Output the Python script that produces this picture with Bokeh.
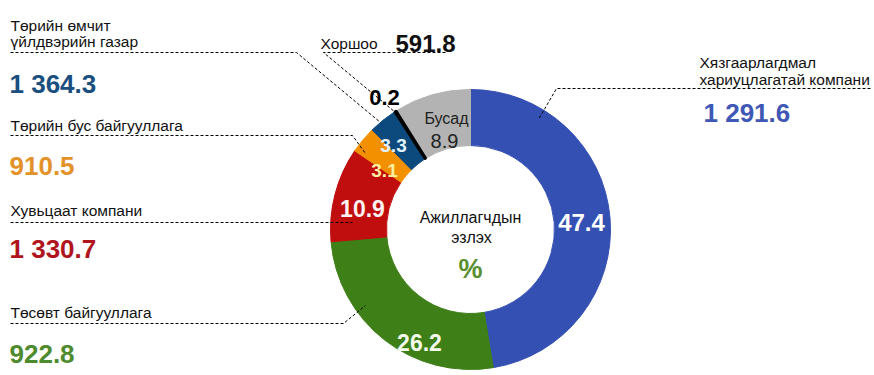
import numpy as np
from bokeh.plotting import figure
from bokeh.models import Range1d, Label
from bokeh.embed import file_html
from bokeh.resources import INLINE

# ---------------- data ----------------
categories = ["Хязгаарлагдмал хариуцлагатай компани", "Төсөвт байгууллага",
              "Хувьцаат компани", "Төрийн бус байгууллага",
              "Төрийн өмчит үйлдвэрийн газар", "Хоршоо", "Бусад"]
shares = [47.4, 26.2, 10.9, 3.1, 3.3, 0.2, 8.9]
amounts = ["1 291.6", "922.8", "1 330.7", "910.5", "1 364.3", "591.8", ""]
share_labels = ["47.4", "26.2", "10.9", "3.1", "3.3", "0.2", "8.9"]
center_lines = ["Ажиллагчдын", "эзлэх", "%"]

# ---------------- styles / layout ----------------
slice_colors = ["#3550B3", "#3F7F18", "#C00D0D", "#F39000", "#0C4A7E", "#000000", "#B3B3B3"]
amount_colors = ["#3F57B5", "#4E8A2E", "#B0141C", "#E3922A", "#1A4E7E", "#111111", "#222222"]
share_colors = ["#FFFFFF", "#F4FBEA", "#FFF2F2", "#FFF0A0", "#E0F4FF", "#000000", "#222222"]

W, H = 874, 375
FONT = "Liberation Sans"
CX, CY, R_OUT, R_IN = 470, 229, 140, 84


def Y(y):
    return H - y


p = figure(width=W, height=H, x_range=Range1d(0, W), y_range=Range1d(0, H),
           output_backend="svg", toolbar_location=None, min_border=0,
           x_axis_location=None, y_axis_location=None)
p.grid.visible = False
p.outline_line_color = None
p.background_fill_color = "white"
p.border_fill_color = "white"

# donut slices: clockwise from top
frac = np.array(shares) / np.sum(shares)
cum_end = np.cumsum(frac)
cum_start = cum_end - frac
start_angles = np.pi / 2 - 2 * np.pi * cum_end
end_angles = np.pi / 2 - 2 * np.pi * cum_start

p.annular_wedge(x=[CX] * len(shares), y=[Y(CY)] * len(shares),
                inner_radius=R_IN, outer_radius=R_OUT,
                start_angle=list(start_angles), end_angle=list(end_angles),
                fill_color=slice_colors, line_color=slice_colors, line_width=1)
# emphasise the tiny black slice
k = 5
p.annular_wedge(x=[CX], y=[Y(CY)], inner_radius=R_IN, outer_radius=R_OUT,
                start_angle=[start_angles[k]], end_angle=[end_angles[k]],
                fill_color="black", line_color="black", line_width=2.5)

# leader lines (layout, image coords)
leaders = [
    [(870, 88), (556, 88), (538, 119)],
    [(10, 323), (343, 323), (365, 305)],
    [(10, 222), (352, 222)],
    [(10, 135), (352, 135), (365, 153)],
    [(10, 52), (296, 52), (380, 122)],
    [(445, 52), (323, 52), (395, 112)],
]
for pts in leaders:
    p.line([a for a, b in pts], [Y(b) for a, b in pts], line_color="black",
           line_width=1, line_dash="3 2")


def lab(x, y, text, size, color="#111111", bold=False, align="left"):
    p.add_layout(Label(x=x, y=Y(y), text=text, text_font=FONT,
                       text_font_size=f"{size}px", text_color=color,
                       text_font_style="bold" if bold else "normal",
                       text_align=align, text_baseline="alphabetic"))


# category name / amount positions (layout)
name_pos = [[(699, 62), (699, 79)], [(10, 312)], [(10, 210)], [(10, 125)],
            [(10, 25), (10, 41)], [(320, 43)], []]
name_split = [["Хязгаарлагдмал", "хариуцлагатай компани"], ["Төсөвт байгууллага"],
              ["Хувьцаат компани"], ["Төрийн бус байгууллага"],
              ["Төрийн өмчит", "үйлдвэрийн газар"], ["Хоршоо"], []]
amount_pos = [(703, 112), (9, 353), (9, 248), (9, 165), (9, 83), (395, 43), None]
amount_size = [26, 26, 26, 26, 26, 24, 0]

for i in range(len(categories)):
    for (x, y), t in zip(name_pos[i], name_split[i]):
        lab(x, y, t, 15.5)
    if amount_pos[i] is not None:
        lab(amount_pos[i][0], amount_pos[i][1], amounts[i], amount_size[i],
            amount_colors[i], bold=True)

# slice value labels (layout)
share_pos = [(581, 222), (419, 342), (362, 208), (384, 170), (393, 145), (384, 97), (444, 140)]
share_size = [24, 23, 23, 19, 19, 22, 20]
share_bold = [True, True, True, True, True, True, False]
for i in range(len(shares)):
    lab(share_pos[i][0], share_pos[i][1], share_labels[i], share_size[i],
        share_colors[i], bold=share_bold[i], align="center")
lab(446, 118, categories[6], 16, "#222222", align="center")

# centre text
lab(470, 217, center_lines[0], 16, "#111111", align="center")
lab(471, 237, center_lines[1], 16, "#111111", align="center")
lab(470, 268, center_lines[2], 27, "#5A8F2E", bold=True, align="center")

open("out.html", "w").write(file_html(p, INLINE))
